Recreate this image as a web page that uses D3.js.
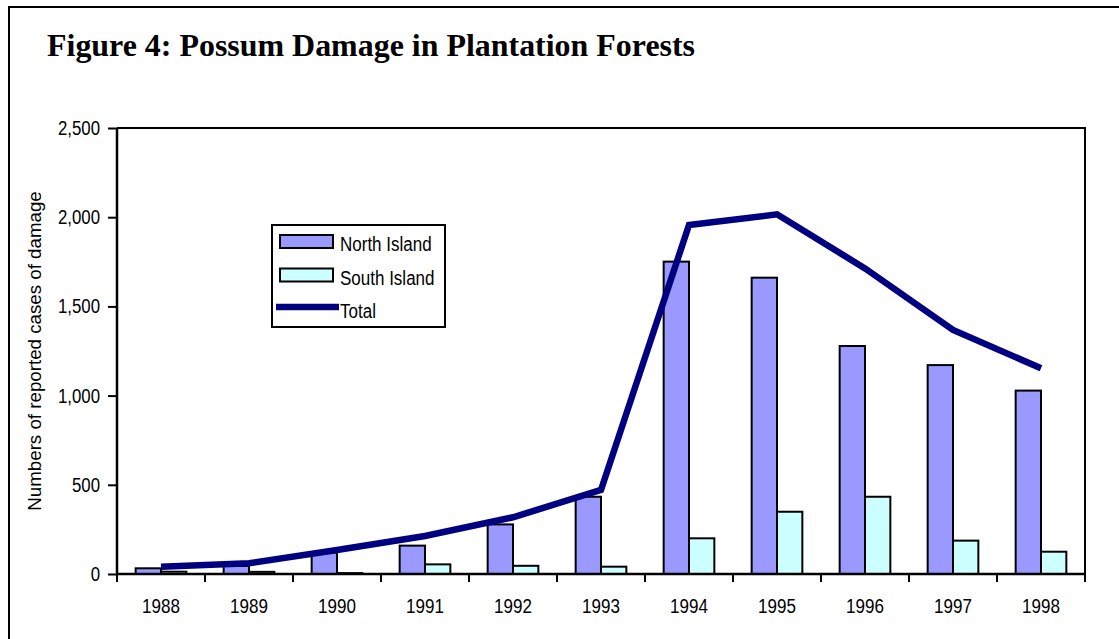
<!DOCTYPE html>
<html><head><meta charset="utf-8">
<script src="https://cdn.jsdelivr.net/npm/d3@7"></script>
<style>
html,body{margin:0;padding:0;background:#fff;}
svg{display:block;}
.sans{font-family:"Liberation Sans",Arial,sans-serif;}
</style></head>
<body>
<svg id="chart" width="1119" height="639"></svg>
<script>
const years = ["1988","1989","1990","1991","1992","1993","1994","1995","1996","1997","1998"];
const northIsland = [32, 45, 120, 159, 278, 433, 1751, 1661, 1278, 1171, 1028];
const southIsland = [13, 12, 5, 54, 46, 41, 200, 349, 433, 187, 125];
const total = [41, 60, 135, 213, 318, 471, 1956, 2016, 1713, 1368, 1153];
const yTicks = [0, 500, 1000, 1500, 2000, 2500];
const seriesNames = ["North Island", "South Island", "Total"];
const colors = {"North Island":"#9999FF","South Island":"#CCFFFF","Total":"#000080"};

const svg = d3.select("#chart");
const W = 1119, H = 639;
const m = {left:117, right:1085, top:128, bottom:574};

// horizontally compress/stretch text to mimic the narrow font
function fit(sel, s) {
  sel.each(function() {
    const len = this.getComputedTextLength();
    d3.select(this).attr("textLength", len * s).attr("lengthAdjust", "spacingAndGlyphs");
  });
}

// outer border
svg.append("rect").attr("x",9).attr("y",7).attr("width",W).attr("height",H)
  .attr("fill","none").attr("stroke","#000").attr("stroke-width",2);

// title
svg.append("text").attr("x",47).attr("y",55.5)
  .attr("font-family","'Liberation Serif','Times New Roman',serif")
  .attr("font-weight","bold").attr("font-size",31)
  .text("Figure 4: Possum Damage in Plantation Forests")
  .call(fit, 1.03);

const x = d3.scaleBand().domain(years).range([m.left, m.right]).padding(0);
const xs = d3.scaleBand().domain(["North Island","South Island"])
  .range([x.bandwidth()*0.212, x.bandwidth()*0.788]).padding(0);
const y = d3.scaleLinear().domain([0,2500]).range([m.bottom, m.top]);

// plot frame (top and right)
svg.append("path")
  .attr("d", `M${m.left},${m.top}H${m.right}V${m.bottom}`)
  .attr("fill","none").attr("stroke","#000").attr("stroke-width",2);

// bars
const groups = svg.append("g").selectAll("g").data(years).join("g")
  .attr("transform", d => `translate(${x(d)},0)`);
groups.append("rect")
  .attr("x", xs("North Island")).attr("width", xs.bandwidth())
  .attr("y", (d,i) => y(northIsland[i])).attr("height", (d,i) => y(0)-y(northIsland[i]))
  .attr("fill", colors["North Island"]).attr("stroke","#000").attr("stroke-width",2);
groups.append("rect")
  .attr("x", xs("South Island")).attr("width", xs.bandwidth())
  .attr("y", (d,i) => y(southIsland[i])).attr("height", (d,i) => y(0)-y(southIsland[i]))
  .attr("fill", colors["South Island"]).attr("stroke","#000").attr("stroke-width",2);

// total line
const line = d3.line().x((d,i) => x(years[i]) + x.bandwidth()/2).y(d => y(d));
svg.append("path").datum(total).attr("d", line)
  .attr("fill","none").attr("stroke", colors["Total"]).attr("stroke-width",6.5)
  .attr("stroke-linejoin","miter");

// axes
const yAxis = d3.axisLeft(y).tickValues(yTicks).tickSize(9).tickPadding(8)
  .tickFormat(d3.format(","));
const gy = svg.append("g").attr("transform",`translate(${m.left},0)`).call(yAxis);
gy.select(".domain").attr("stroke-width",2.5).attr("d",`M-0,${m.top}V${m.bottom}`);
gy.selectAll(".tick line").attr("stroke-width",2);
gy.selectAll("text").attr("class","sans").attr("font-size",20.5).attr("fill","#000")
  .call(fit, 0.82);

const xAxis = d3.axisBottom(x).tickSize(0).tickPadding(24);
const gx = svg.append("g").attr("transform",`translate(0,${m.bottom})`).call(xAxis);
gx.select(".domain").attr("stroke-width",2.5).attr("d",`M${m.left},0H${m.right}`);
gx.selectAll("text").attr("class","sans").attr("font-size",20.5).attr("fill","#000")
  .call(fit, 0.83);
// tick marks at band edges
gx.append("g").selectAll("line").data(years.concat(["__end"])).join("line")
  .attr("x1", (d,i) => m.left + i*x.step()).attr("x2", (d,i) => m.left + i*x.step())
  .attr("y1",0).attr("y2",8).attr("stroke","#000").attr("stroke-width",2);

// y axis title
svg.append("text").attr("class","sans")
  .attr("transform",`translate(40.5,${(m.top+m.bottom)/2}) rotate(-90)`)
  .attr("text-anchor","middle").attr("font-size",18)
  .text("Numbers of reported cases of damage")
  .call(fit, 1.04);

// legend
const lg = svg.append("g");
lg.append("rect").attr("x",272).attr("y",225).attr("width",173).attr("height",102)
  .attr("fill","#fff").attr("stroke","#000").attr("stroke-width",2);
const items = lg.selectAll("g.item").data(seriesNames).join("g").attr("class","item")
  .attr("transform",(d,i)=>`translate(0,${241.5 + i*33.5})`);
items.filter(d => d !== "Total").append("rect")
  .attr("x",280).attr("y",-6.5).attr("width",53).attr("height",13)
  .attr("fill", d => colors[d]).attr("stroke","#000").attr("stroke-width",2);
items.filter(d => d === "Total").append("line")
  .attr("x1",276).attr("x2",339).attr("y1",-1.5).attr("y2",-1.5)
  .attr("stroke", colors["Total"]).attr("stroke-width",6.5);
items.append("text").attr("class","sans").attr("x",340).attr("y",9.5)
  .attr("font-size",20).text(d => d)
  .call(fit, 0.85);
</script>
</body></html>
